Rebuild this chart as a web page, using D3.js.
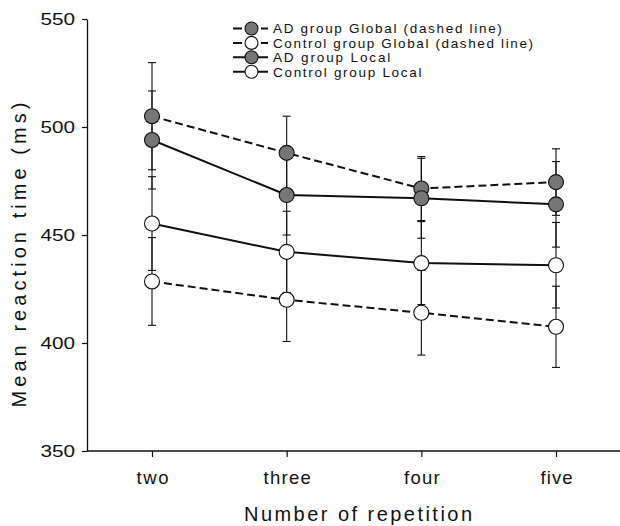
<!DOCTYPE html>
<html>
<head>
<meta charset="utf-8">
<script src="https://cdn.jsdelivr.net/npm/d3@7"></script>
<style>
  body { margin: 0; background: #fff; }
  svg { display: block; font-family: "Liberation Sans", Arial, sans-serif; }
</style>
</head>
<body>
<div id="chart"></div>
<script>
// Mean reaction time by number of repetition, AD vs control, global/local
const categories = ['two', 'three', 'four', 'five'];
const adGlobal = [505, 488, 471.5, 474.5];
const adGlobalErr = [24.8, 17, 14.8, 15.4];
const controlGlobal = [428.5, 420, 414, 407.5];
const controlGlobalErr = [20.3, 19.3, 19.6, 18.8];
const adLocal = [494, 468.5, 467, 464.2];
const adLocalErr = [22.7, 18.5, 18.5, 19.8];
const controlLocal = [455.3, 442.2, 437, 436];
const controlLocalErr = [21.7, 18.8, 19.2, 19.8];
const yTicks = [350, 400, 450, 500, 550];

const series = [
  { name: 'AD group Global (dashed line)', values: adGlobal, err: adGlobalErr, fill: '#767676', dashed: true },
  { name: 'Control group Global (dashed line)', values: controlGlobal, err: controlGlobalErr, fill: '#fff', dashed: true },
  { name: 'AD group Local', values: adLocal, err: adLocalErr, fill: '#767676', dashed: false },
  { name: 'Control group Local', values: controlLocal, err: controlLocalErr, fill: '#fff', dashed: false }
];

const W = 620, H = 526;
const svg = d3.select('#chart').append('svg')
  .attr('width', W)
  .attr('height', H);

// scanned figure has wide lettering: widen text a little
function stretch(sel, k, mode) {
  sel.each(function () {
    const w = this.getComputedTextLength();
    d3.select(this).attr('textLength', w * k).attr('lengthAdjust', mode || 'spacingAndGlyphs');
  });
}

const x = d3.scalePoint().domain(categories).range([152, 556]);
const y = d3.scaleLinear().domain([350, 550]).range([451, 19]);
const axisX0 = 87;

// Y axis
const yAxis = svg.append('g')
  .attr('transform', `translate(${axisX0},0)`)
  .call(d3.axisLeft(y).tickValues(yTicks).tickSize(5).tickSizeOuter(0).tickPadding(7));
yAxis.select('.domain').attr('stroke', '#111').attr('stroke-width', 1.3);
yAxis.selectAll('.tick line').attr('stroke', '#111').attr('stroke-width', 1.2);
yAxis.selectAll('.tick text')
  .attr('font-size', 17)
  .attr('fill', '#111')
  .call(stretch, 1.22);

// X axis (line runs to the right edge)
const xAxis = svg.append('g')
  .attr('transform', `translate(0,${y(350)})`)
  .call(d3.axisBottom(x).tickSize(6).tickSizeOuter(0));
xAxis.select('.domain').remove();
xAxis.append('line')
  .attr('x1', axisX0).attr('x2', W)
  .attr('stroke', '#111').attr('stroke-width', 1.3);
xAxis.selectAll('.tick line').attr('stroke', '#111').attr('stroke-width', 1.2);
xAxis.selectAll('.tick text')
  .attr('y', 33).attr('dy', 0)
  .attr('font-size', 18.5)
  .attr('fill', '#111')
  .call(stretch, 1.12, 'spacing');

// Axis titles
svg.append('text')
  .attr('x', 358).attr('y', 521)
  .attr('text-anchor', 'middle')
  .attr('font-size', 20)
  .attr('fill', '#111')
  .attr('textLength', 228).attr('lengthAdjust', 'spacing')
  .text('Number of repetition');

svg.append('text')
  .attr('transform', 'translate(26,255) rotate(-90)')
  .attr('text-anchor', 'middle')
  .attr('font-size', 20)
  .attr('fill', '#111')
  .attr('textLength', 305).attr('lengthAdjust', 'spacing')
  .text('Mean reaction time (ms)');

const plot = svg.append('g');

// Error bars
series.forEach(s => {
  const g = plot.append('g').attr('stroke', '#111').attr('stroke-width', 1.1);
  categories.forEach((c, i) => {
    const cx = x(c), hi = y(s.values[i] + s.err[i]), lo = y(s.values[i] - s.err[i]);
    g.append('line').attr('x1', cx).attr('x2', cx).attr('y1', hi).attr('y2', lo);
    g.append('line').attr('x1', cx - 4).attr('x2', cx + 4).attr('y1', hi).attr('y2', hi);
    g.append('line').attr('x1', cx - 4).attr('x2', cx + 4).attr('y1', lo).attr('y2', lo);
  });
});

// Lines
const line = d3.line()
  .x((d, i) => x(categories[i]))
  .y(d => y(d));
series.forEach(s => {
  plot.append('path')
    .datum(s.values)
    .attr('d', line)
    .attr('fill', 'none')
    .attr('stroke', '#111')
    .attr('stroke-width', 2)
    .attr('stroke-dasharray', s.dashed ? '8,4' : null);
});

// Markers
series.forEach(s => {
  plot.selectAll(null)
    .data(s.values)
    .enter().append('circle')
      .attr('cx', (d, i) => x(categories[i]))
      .attr('cy', d => y(d))
      .attr('r', 7.5)
      .attr('fill', s.fill)
      .attr('stroke', '#111')
      .attr('stroke-width', 1.1);
});

// Legend
const legend = svg.append('g');
series.forEach((s, i) => {
  const ly = 28.5 + i * 14.4;
  legend.append('line')
    .attr('x1', 233).attr('x2', 268)
    .attr('y1', ly).attr('y2', ly)
    .attr('stroke', '#111').attr('stroke-width', 2)
    .attr('stroke-dasharray', s.dashed ? '9,5' : null);
  legend.append('circle')
    .attr('cx', 251.5).attr('cy', ly).attr('r', 6.5)
    .attr('fill', s.fill).attr('stroke', '#111').attr('stroke-width', 1.1);
  legend.append('text')
    .attr('x', 273).attr('y', ly).attr('dy', '0.36em')
    .attr('font-size', 13.5)
    .attr('fill', '#111')
    .text(s.name)
    .call(stretch, 1.26, 'spacing');
});
</script>
</body>
</html>
